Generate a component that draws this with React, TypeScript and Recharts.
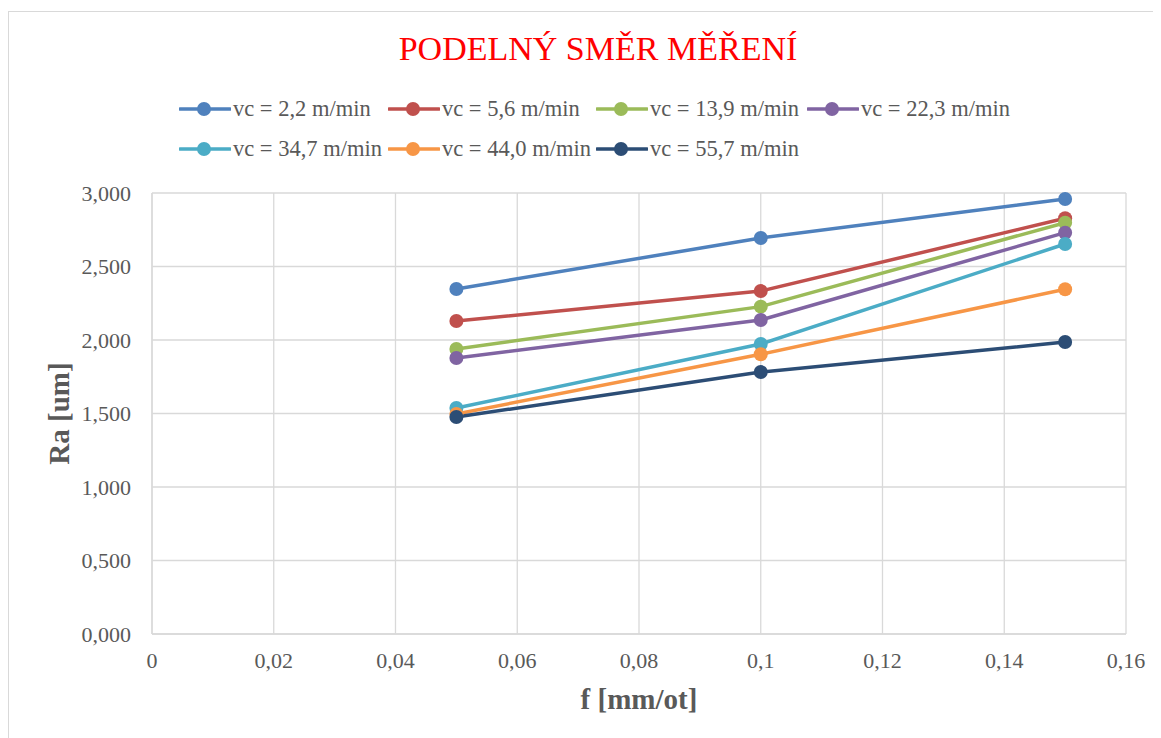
import React from 'react'
import {
  LineChart,
  Line,
  XAxis,
  YAxis,
  CartesianGrid,
  Label
} from 'recharts'

const feeds = [0.05, 0.1, 0.15]

const vc22 = [2.347, 2.694, 2.959]
const vc56 = [2.129, 2.333, 2.828]
const vc139 = [1.939, 2.227, 2.798]
const vc223 = [1.878, 2.136, 2.73]
const vc347 = [1.537, 1.973, 2.653]
const vc440 = [1.497, 1.903, 2.345]
const vc557 = [1.476, 1.782, 1.986]

const xTicks = [0, 0.02, 0.04, 0.06, 0.08, 0.1, 0.12, 0.14, 0.16]
const yTicks = [0, 0.5, 1, 1.5, 2, 2.5, 3]

const seriesNames = [
  'vc = 2,2 m/min',
  'vc = 5,6 m/min',
  'vc = 13,9 m/min',
  'vc = 22,3 m/min',
  'vc = 34,7 m/min',
  'vc = 44,0 m/min',
  'vc = 55,7 m/min'
]
const seriesValues = [vc22, vc56, vc139, vc223, vc347, vc440, vc557]
const colors = ['#4F81BD', '#C0504D', '#9BBB59', '#8064A2', '#4BACC6', '#F79646', '#2C4D75']

const data = feeds.map((f, i) => {
  const row: any = { f }
  seriesNames.forEach((name, s) => {
    row[name] = seriesValues[s][i]
  })
  return row
})

const font = 'Liberation Serif'
const gray = '#595959'

const LegendItem = ({ name, color }: { name: string; color: string }) => (
  <div style={{ display: 'flex', alignItems: 'center', height: 30 }}>
    <svg width={52} height={16} style={{ flex: 'none' }}>
      <line x1={1} y1={8} x2={51} y2={8} stroke={color} strokeWidth={3.5} strokeLinecap="round" />
      <circle cx={25} cy={8} r={7} fill={color} />
    </svg>
    <span style={{ marginLeft: 2, fontSize: 22.5, color: gray, whiteSpace: 'nowrap' }}>{name}</span>
  </div>
)

const App = () => {
  return (
    <div style={{ position: 'relative', width: 1153, height: 730, fontFamily: font }}>
      <div style={{ position: 'absolute', left: 0, top: 3, width: 1153, height: 1, background: '#D9D9D9' }} />
      <div style={{ position: 'absolute', left: 0, top: 3, width: 1, height: 727, background: '#D9D9D9' }} />
      <div
        style={{
          position: 'absolute',
          left: 0,
          width: 1180,
          top: 21,
          textAlign: 'center',
          color: '#FF0000',
          fontSize: 34,
          lineHeight: '40px'
        }}
      >
        PODELNÝ SMĚR MĚŘENÍ
      </div>
      <div
        style={{
          position: 'absolute',
          left: 171,
          top: 86,
          display: 'grid',
          gridTemplateColumns: '209px 208px 211px 220px',
          rowGap: 10
        }}
      >
        {seriesNames.map((name, i) => (
          <LegendItem key={name} name={name} color={colors[i]} />
        ))}
      </div>
      <LineChart
        width={1153}
        height={730}
        data={data}
        margin={{ top: 185, right: 35, left: 54, bottom: 54 }}
        style={{ position: 'absolute', left: 0, top: 0 }}
      >
        <CartesianGrid stroke="#D9D9D9" strokeWidth={1.3} />
        <XAxis
          dataKey="f"
          type="number"
          domain={[0, 0.16]}
          ticks={xTicks}
          interval={0}
          height={50}
          stroke="#D9D9D9"
          strokeWidth={1.3}
          tickLine={false}
          tickSize={0}
          tickMargin={18}
          tick={{ fill: gray, fontSize: 22, fontFamily: font }}
          tickFormatter={(v: number) => String(v).replace('.', ',')}
        >
          <Label
            value="f [mm/ot]"
            position="bottom"
            offset={4}
            style={{ fill: gray, fontSize: 29, fontWeight: 'bold', fontFamily: font }}
          />
        </XAxis>
        <YAxis
          type="number"
          domain={[0, 3]}
          ticks={yTicks}
          interval={0}
          width={90}
          stroke="#D9D9D9"
          strokeWidth={1.3}
          tickLine={false}
          tickSize={0}
          tickMargin={21}
          tick={{ fill: gray, fontSize: 22, fontFamily: font }}
          tickFormatter={(v: number) => v.toFixed(3).replace('.', ',')}
        >
          <Label
            value="Ra [um]"
            angle={-90}
            position="left"
            offset={3}
            style={{ fill: gray, fontSize: 29, fontWeight: 'bold', fontFamily: font, textAnchor: 'middle' }}
          />
        </YAxis>
        {seriesNames.map((name, i) => (
          <Line
            key={name}
            dataKey={name}
            stroke={colors[i]}
            strokeWidth={3.5}
            dot={{ r: 7, fill: colors[i], stroke: colors[i], strokeWidth: 0 }}
            activeDot={false}
            isAnimationActive={false}
          />
        ))}
      </LineChart>
    </div>
  )
}

export default App
